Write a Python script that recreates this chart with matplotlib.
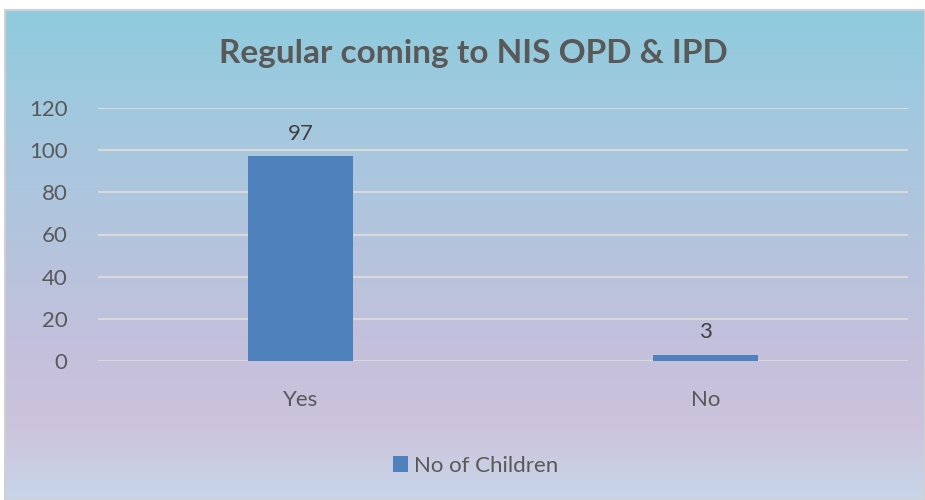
import numpy as np
import matplotlib
matplotlib.use("Agg")
import matplotlib.pyplot as plt
from matplotlib.colors import LinearSegmentedColormap
from matplotlib.patches import Rectangle

categories = ["Yes", "No"]
children = [97, 3]
yticks = [0, 20, 40, 60, 80, 100, 120]

plt.rcParams['font.family'] = ['Lato', 'DejaVu Sans']

fig = plt.figure(figsize=(9.25, 5), dpi=100)
fig.patch.set_facecolor('white')

# gradient background of the chart area
bg = fig.add_axes([5/925, 0, 920/925, 490/500], zorder=0)
cmap = LinearSegmentedColormap.from_list(
    'bg', [(0.0, '#c8d6e9'), (0.15, '#ccc3db'), (0.3, '#c4c0dc'),
           (0.75, '#a5c8df'), (1.0, '#8fcbdd')])
grad = np.linspace(0, 1, 256).reshape(-1, 1)
bg.imshow(grad, aspect='auto', cmap=cmap, origin='lower', extent=[0, 1, 0, 1])
bg.set_xlim(0, 1)
bg.set_ylim(0, 1)
bg.axis('off')
bg.add_patch(Rectangle((0, 0), 1, 1, transform=bg.transAxes, fill=False,
                       edgecolor='#d0d0d0', linewidth=1.5, clip_on=False))

ax = fig.add_axes([98/925, 139/500, 810/925, 253/500], zorder=1)
ax.patch.set_alpha(0)
x = np.arange(len(categories))
bars = ax.bar(x, children, width=0.26, color='#4f81bd', zorder=3,
              label='No of Children')
for b, v in zip(bars, children):
    ax.text(b.get_x() + b.get_width()/2, v + 6, str(v), ha='center', va='bottom',
            fontsize=16, color='#404040')

ax.set_xlim(-0.5, 1.5)
ax.set_ylim(0, 120)
ax.set_yticks(yticks)
ax.set_xticks(x)
ax.set_xticklabels(categories)
ax.grid(axis='y', color='#d9d9d9', linewidth=1.5, zorder=0)
ax.set_axisbelow(True)
for s in ax.spines.values():
    s.set_visible(False)
ax.tick_params(axis='both', length=0, labelsize=16, labelcolor='#595959')
ax.tick_params(axis='y', pad=22)
ax.tick_params(axis='x', pad=21)

fig.text(473/925, 1 - 53/500, 'Regular coming to NIS OPD & IPD', ha='center',
         va='center', fontsize=24, fontweight='bold', color='#595959')

leg = fig.legend(loc='center', bbox_to_anchor=(476/925, 1 - 466/500), frameon=False,
                 fontsize=16, handlelength=0.65, handleheight=0.7, handletextpad=0.3,
                 labelcolor='#595959')

plt.savefig('out.png', dpi=100)
